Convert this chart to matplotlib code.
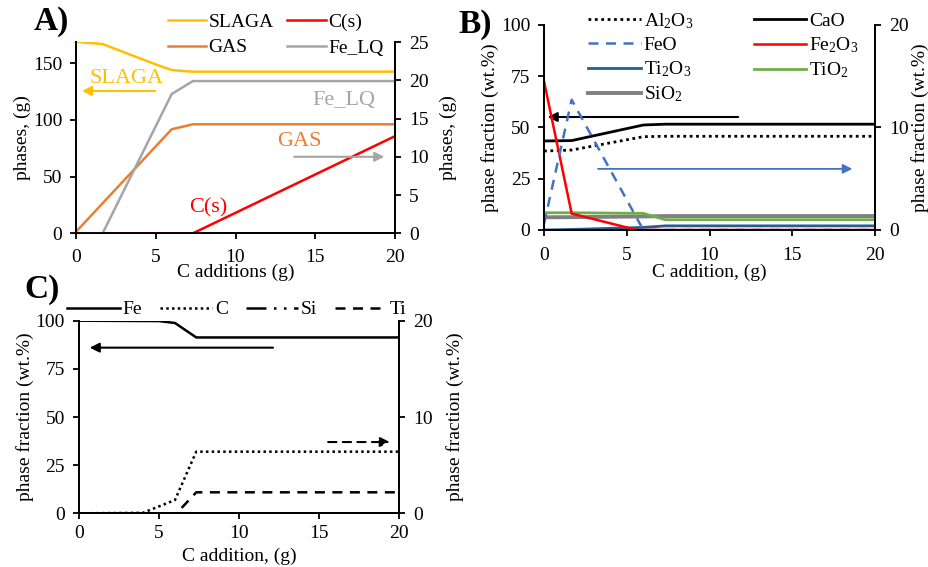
"""Three-panel carbon-addition equilibrium figure: A) phase masses, B) slag, C) metal."""
import matplotlib

matplotlib.use("Agg")
import matplotlib.pyplot as plt

plt.rcParams["font.family"] = ["Liberation Serif", "DejaVu Serif"]
plt.rcParams["font.size"] = 14
plt.rcParams["mathtext.fontset"] = "custom"
plt.rcParams["mathtext.rm"] = "Liberation Serif"
plt.rcParams["mathtext.it"] = "Liberation Serif:italic"
plt.rcParams["mathtext.bf"] = "Liberation Serif:bold"

# ---- panel A: phase amounts (g); SLAGA on left axis, rest on right axis
slaga_x = [0, 1.67, 3.33, 5.0, 6.0, 7.33, 20]
slaga_y = [169.0, 167.0, 158.0, 149.0, 144.0, 142.6, 142.6]
gas_x = [0, 6.0, 7.33, 20]
gas_y = [0.2, 13.6, 14.25, 14.25]
felq_x = [0, 1.67, 6.0, 7.33, 20]
felq_y = [0, 0, 18.2, 19.9, 19.9]
cs_x = [1.67, 7.33, 20]
cs_y = [0, 0, 12.7]

# ---- panel B: slag composition (wt.%); CaO, Al2O3 left, the rest right
caO_x = [0, 1.67, 6.0, 7.33, 20]
caO_y = [43.4, 43.6, 51.2, 51.6, 51.6]
al2o3_x = [0, 1.67, 6.0, 7.33, 20]
al2o3_y = [38.5, 39.0, 45.5, 45.7, 45.7]
feo_x = [0, 1.67, 6.0, 20]
feo_y = [0.6, 12.7, 0, 0]
fe2o3_x = [0, 1.67, 5.6, 20]
fe2o3_y = [14.5, 1.6, 0, 0]
ti2o3_x = [0, 1.67, 6.0, 7.33, 20]
ti2o3_y = [0.0, 0.05, 0.25, 0.4, 0.4]
tio2_x = [0, 1.67, 6.0, 7.33, 20]
tio2_y = [1.68, 1.68, 1.62, 1.0, 1.0]
sio2_x = [0, 1.67, 6.0, 7.33, 20]
sio2_y = [1.24, 1.25, 1.32, 1.36, 1.36]

# ---- panel C: metal composition (wt.%); Fe left, C/Si/Ti right
fe_x = [0, 5.0, 6.0, 7.33, 20]
fe_y = [100.0, 99.8, 98.8, 91.3, 91.3]
c_x = [0, 4.0, 6.0, 7.33, 20]
c_y = [0, 0.05, 1.38, 6.4, 6.4]
si_x = [0, 20]
si_y = [0.03, 0.03]
ti_x = [0, 6.1, 7.33, 20]
ti_y = [0, 0, 2.18, 2.18]

YELLOW = "#FFC000"
ORANGE = "#ED7D31"
GRAY = "#A5A5A5"
RED = "#FF0000"
BLUE = "#4472C4"
DKBLUE = "#255E91"
GREEN = "#70AD47"
DKGRAY = "#808080"


def style_axes(ax, axr, xlabel, ylabel, ylim_l, yticks_l, ylim_r, yticks_r,
               xpad, xlabelpad, rlabelpad=8):
    ax.set_xlim(0, 20)
    ax.set_xticks([0, 5, 10, 15, 20])
    ax.set_ylim(*ylim_l)
    ax.set_yticks(yticks_l)
    axr.set_ylim(*ylim_r)
    axr.set_yticks(yticks_r)
    for a in (ax, axr):
        a.spines["top"].set_visible(False)
        for s in a.spines.values():
            s.set_linewidth(1.3)
        a.tick_params(length=4, width=1.3, labelsize=14, pad=6)
        a.patch.set_visible(False)
    ax.tick_params(axis="x", pad=xpad)
    ax.set_xlabel(xlabel, labelpad=xlabelpad)
    ax.set_ylabel(ylabel, labelpad=1)
    axr.set_ylabel(ylabel, labelpad=rlabelpad)


fig = plt.figure(figsize=(9.29, 5.67), dpi=100)

# ================= A =================
axA = fig.add_axes([0.0818, 0.5885, 0.3434, 0.3374])
axAr = axA.twinx()
l_slaga, = axA.plot(slaga_x, slaga_y, color=YELLOW, lw=1.8, label="SLAGA")
l_gas, = axAr.plot(gas_x, gas_y, color=ORANGE, lw=1.8, label="GAS")
l_cs, = axAr.plot(cs_x, cs_y, color=RED, lw=1.8, label="C(s)")
l_felq, = axAr.plot(felq_x, felq_y, color=GRAY, lw=1.8, label="Fe_LQ")
style_axes(axA, axAr, "C additions (g)", "phases, (g)", (0, 168.75), [0, 50, 100, 150],
           (0, 25), [0, 5, 10, 15, 20, 25], xpad=7.5, xlabelpad=-2)
axA.text(3.2, 137, "SLAGA", color=YELLOW, fontsize=16, ha="center", va="center")
axA.annotate("", xy=(0.2, 125.6), xytext=(5.15, 125.6),
             arrowprops=dict(arrowstyle="-|>", color=YELLOW, lw=1.5, mutation_scale=14))
axAr.text(16.8, 17.3, "Fe_LQ", color=GRAY, fontsize=16, ha="center", va="center")
axAr.text(14.0, 12.0, "GAS", color=ORANGE, fontsize=16, ha="center", va="center")
axAr.annotate("", xy=(19.5, 10), xytext=(13.5, 10),
              arrowprops=dict(arrowstyle="-|>", color=GRAY, lw=1.5, mutation_scale=14))
axAr.text(8.3, 3.3, "C(s)", color=RED, fontsize=16, ha="center", va="center")
fig.legend([l_slaga, l_gas, l_cs, l_felq], ["SLAGA", "GAS", "C(s)", "Fe_LQ"],
           ncol=2, loc="upper left", bbox_to_anchor=(0.172, 0.99), frameon=False,
           handlelength=2.0, handletextpad=0.1, columnspacing=0.7, labelspacing=0.4,
           borderaxespad=0, fontsize=14)
fig.text(0.055, 0.962, "A)", fontsize=24, fontweight="bold", ha="center", va="center")

# ================= B =================
axB = fig.add_axes([0.5856, 0.5944, 0.3563, 0.3616])
axBr = axB.twinx()
h_al, = axB.plot(al2o3_x, al2o3_y, color="black", lw=2, ls=(0, (1, 1.3)))
h_ca, = axB.plot(caO_x, caO_y, color="black", lw=2)
h_sio2, = axBr.plot(sio2_x, sio2_y, color=DKGRAY, lw=2.8)
h_tio2, = axBr.plot(tio2_x, tio2_y, color=GREEN, lw=2)
h_ti2o3, = axBr.plot(ti2o3_x, ti2o3_y, color=DKBLUE, lw=2)
h_fe2o3, = axBr.plot(fe2o3_x, fe2o3_y, color=RED, lw=1.8)
h_feo, = axBr.plot(feo_x, feo_y, color=BLUE, lw=1.8, ls=(0, (4, 3)))
style_axes(axB, axBr, "C addition, (g)", "phase fraction (wt.%)", (0, 100),
           [0, 25, 50, 75, 100], (0, 20), [0, 10, 20], xpad=8, xlabelpad=0, rlabelpad=2)
axB.annotate("", xy=(0.05, 55.1), xytext=(11.9, 55.1),
             arrowprops=dict(arrowstyle="-|>", color="black", lw=1.5, mutation_scale=14))
axB.annotate("", xy=(18.8, 29.8), xytext=(3.1, 29.8),
             arrowprops=dict(arrowstyle="-|>", color=BLUE, lw=1.3, mutation_scale=14))
fig.legend([h_al, h_feo, h_ti2o3, h_sio2, h_ca, h_fe2o3, h_tio2],
           [r"Al$_2$O$_3$", "FeO", r"Ti$_2$O$_3$", r"SiO$_2$", "CaO", r"Fe$_2$O$_3$", r"TiO$_2$"],
           ncol=2, loc="upper left", bbox_to_anchor=(0.625, 0.994), frameon=False,
           handlelength=2.7, handletextpad=0.15, columnspacing=3.1, labelspacing=0.28,
           borderaxespad=0, fontsize=14)
fig.text(0.511, 0.957, "B)", fontsize=24, fontweight="bold", ha="center", va="center")

# ================= C =================
axC = fig.add_axes([0.085, 0.0947, 0.3445, 0.3397])
axCr = axC.twinx()
h_fe, = axC.plot(fe_x, fe_y, color="black", lw=1.8)
h_c, = axCr.plot(c_x, c_y, color="black", lw=1.8, ls=(0, (1, 1.3)))
h_si, = axCr.plot(si_x, si_y, color="black", lw=1.8, ls=(0, (8, 3, 1, 3, 1, 3)))
h_ti, = axCr.plot(ti_x, ti_y, color="black", lw=1.8, ls=(0, (4, 3)))
style_axes(axC, axCr, "C addition, (g)", "phase fraction (wt.%)", (0, 100),
           [0, 25, 50, 75, 100], (0, 20), [0, 10, 20], xpad=4.5, xlabelpad=4, rlabelpad=10)
axC.annotate("", xy=(0.5, 86.0), xytext=(12.3, 86.0),
             arrowprops=dict(arrowstyle="-|>", color="black", lw=1.5, mutation_scale=14))
axCr.annotate("", xy=(19.6, 7.4), xytext=(15.4, 7.4),
              arrowprops=dict(arrowstyle="-|>", color="black", lw=1.5, ls=(0, (4, 3)),
                              mutation_scale=14))
fig.legend([h_fe, h_c, h_si, h_ti], ["Fe", "C", "Si", "Ti"],
           ncol=4, loc="center left", bbox_to_anchor=(0.064, 0.454), frameon=False,
           handlelength=2.7, handletextpad=0.15, columnspacing=0.9,
           borderaxespad=0, fontsize=14)
fig.text(0.045, 0.49, "C)", fontsize=24, fontweight="bold", ha="center", va="center")

fig.savefig("out.png", dpi=100)
